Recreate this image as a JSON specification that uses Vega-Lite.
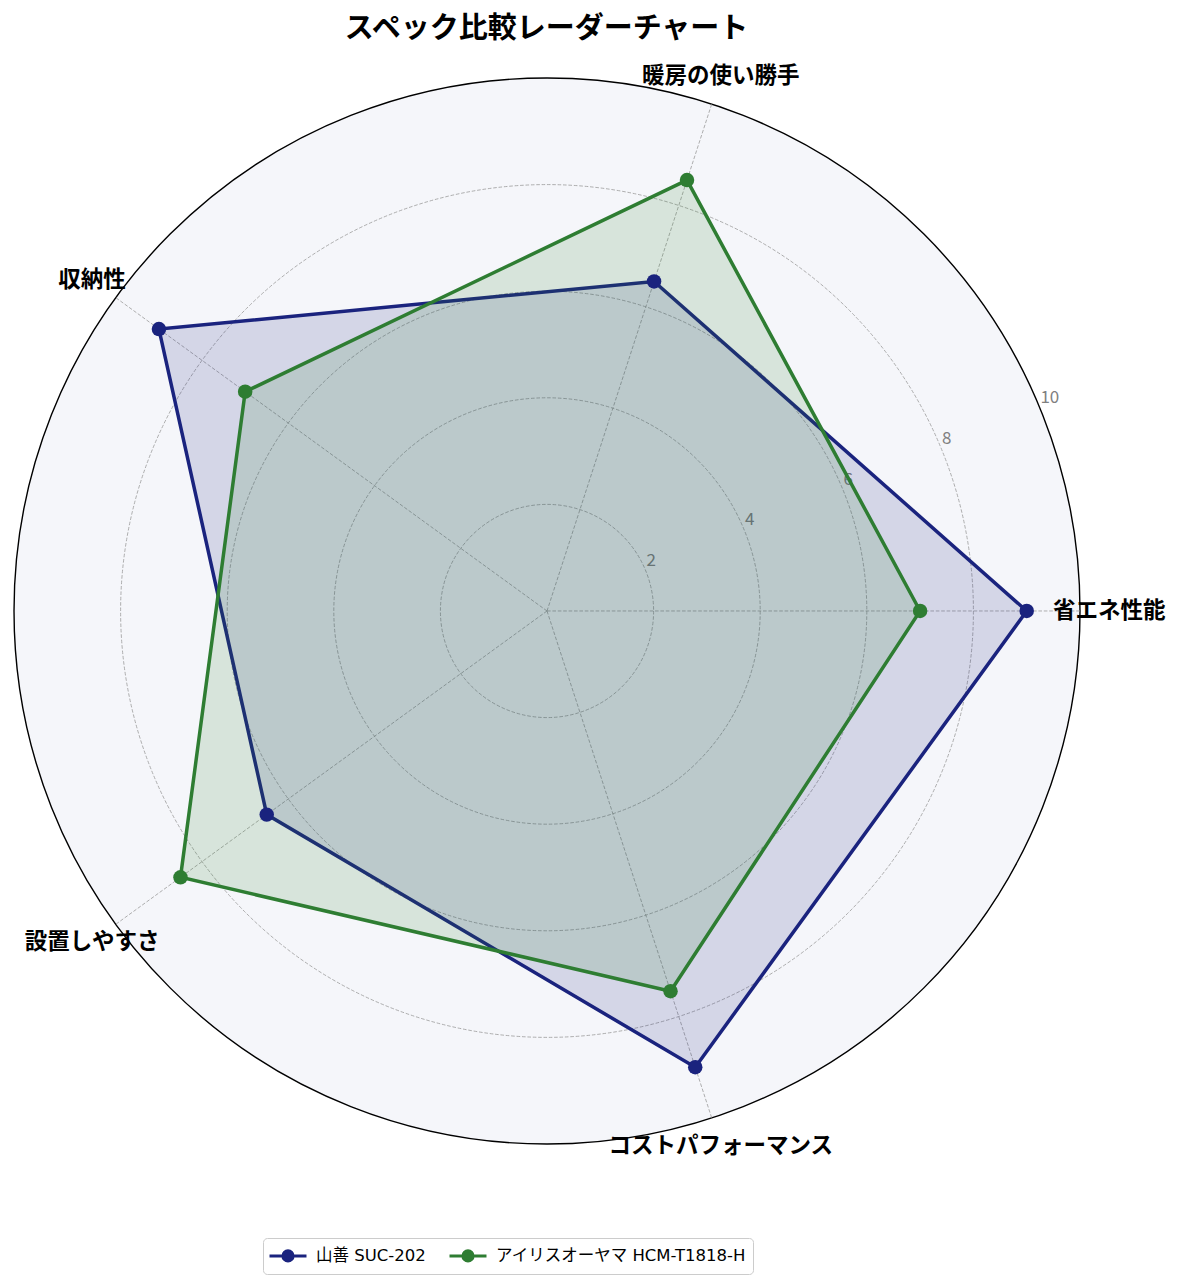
{
  "$schema": "https://vega.github.io/schema/vega-lite/v6.json",
  "width": 1181,
  "height": 1238,
  "autosize": {"type": "none"},
  "padding": {"top": 50, "left": 0, "right": 0, "bottom": 0},
  "background": "white",
  "title": {
    "text": "スペック比較レーダーチャート",
    "font": "Noto Sans CJK JP",
    "fontSize": 29,
    "fontWeight": "bold",
    "color": "#000000",
    "anchor": "middle",
    "dx": -44,
    "offset": 6
  },
  "config": {"view": {"stroke": null}, "font": "Noto Sans CJK JP"},
  "datasets": {
    "scores": [
      {"product": "山善 SUC-202", "metric": "省エネ性能", "order": 0, "score": 9},
      {"product": "山善 SUC-202", "metric": "暖房の使い勝手", "order": 1, "score": 6.5},
      {"product": "山善 SUC-202", "metric": "収納性", "order": 2, "score": 9},
      {"product": "山善 SUC-202", "metric": "設置しやすさ", "order": 3, "score": 6.5},
      {"product": "山善 SUC-202", "metric": "コストパフォーマンス", "order": 4, "score": 9},
      {"product": "アイリスオーヤマ HCM-T1818-H", "metric": "省エネ性能", "order": 0, "score": 7},
      {"product": "アイリスオーヤマ HCM-T1818-H", "metric": "暖房の使い勝手", "order": 1, "score": 8.5},
      {"product": "アイリスオーヤマ HCM-T1818-H", "metric": "収納性", "order": 2, "score": 7},
      {"product": "アイリスオーヤマ HCM-T1818-H", "metric": "設置しやすさ", "order": 3, "score": 8.5},
      {"product": "アイリスオーヤマ HCM-T1818-H", "metric": "コストパフォーマンス", "order": 4, "score": 7.5}
    ],
    "metrics": [
      {"metric": "省エネ性能", "order": 0},
      {"metric": "暖房の使い勝手", "order": 1},
      {"metric": "収納性", "order": 2},
      {"metric": "設置しやすさ", "order": 3},
      {"metric": "コストパフォーマンス", "order": 4}
    ],
    "rings": [{"r": 2}, {"r": 4}, {"r": 6}, {"r": 8}, {"r": 10}]
  },
  "layer": [
    {
      "data": {"name": "rings"},
      "transform": [{"filter": "datum.r == 10"}, {"calculate": "0", "as": "cx"}],
      "mark": {"type": "point", "shape": "circle", "filled": true, "color": "#f5f6fa", "stroke": "#000000", "strokeWidth": 1.4, "opacity": 1},
      "encoding": {
        "x": {"field": "cx", "type": "quantitative", "scale": {"domain": [-10.263, 11.895], "nice": false, "zero": false}, "axis": null},
        "y": {"field": "cx", "type": "quantitative", "scale": {"domain": [-12.702, 10.525], "nice": false, "zero": false}, "axis": null},
        "size": {"field": "r", "type": "quantitative", "scale": {"type": "pow", "exponent": 2, "domain": [0, 10], "range": [0, 1136356]}, "legend": null}
      }
    },
    {
      "data": {"name": "rings"},
      "transform": [{"filter": "datum.r < 10"}, {"calculate": "0", "as": "cx"}],
      "mark": {"type": "point", "shape": "circle", "filled": false, "stroke": "#9a9a9a", "strokeWidth": 0.8, "strokeDash": [3.6, 1.8], "opacity": 1},
      "encoding": {
        "x": {"field": "cx", "type": "quantitative", "scale": {"domain": [-10.263, 11.895], "nice": false, "zero": false}, "axis": null},
        "y": {"field": "cx", "type": "quantitative", "scale": {"domain": [-12.702, 10.525], "nice": false, "zero": false}, "axis": null},
        "size": {"field": "r", "type": "quantitative", "scale": {"type": "pow", "exponent": 2, "domain": [0, 10], "range": [0, 1136356]}, "legend": null}
      }
    },
    {
      "data": {"name": "metrics"},
      "transform": [
        {"calculate": "datum.order * 2 * PI / 5", "as": "angle"},
        {"calculate": "0", "as": "cx"},
        {"calculate": "10 * cos(datum.angle)", "as": "ex"},
        {"calculate": "10 * sin(datum.angle)", "as": "ey"}
      ],
      "mark": {"type": "rule", "stroke": "#9a9a9a", "strokeWidth": 0.8, "strokeDash": [3.6, 1.8]},
      "encoding": {
        "x": {"field": "cx", "type": "quantitative", "scale": {"domain": [-10.263, 11.895], "nice": false, "zero": false}, "axis": null},
        "y": {"field": "cx", "type": "quantitative", "scale": {"domain": [-12.702, 10.525], "nice": false, "zero": false}, "axis": null},
        "x2": {"field": "ex"},
        "y2": {"field": "ey"}
      }
    },
    {
      "data": {"name": "rings"},
      "transform": [
        {"calculate": "datum.r * cos(PI / 8)", "as": "x"},
        {"calculate": "datum.r * sin(PI / 8)", "as": "y"}
      ],
      "mark": {"type": "text", "align": "left", "baseline": "bottom", "fontSize": 17, "color": "#808080", "font": "Noto Sans CJK JP", "dx": 1},
      "encoding": {
        "x": {"field": "x", "type": "quantitative", "scale": {"domain": [-10.263, 11.895], "nice": false, "zero": false}, "axis": null},
        "y": {"field": "y", "type": "quantitative", "scale": {"domain": [-12.702, 10.525], "nice": false, "zero": false}, "axis": null},
        "text": {"field": "r", "type": "quantitative"}
      }
    },
    {
      "data": {"name": "metrics"},
      "transform": [
        {"calculate": "datum.order * 2 * PI / 5", "as": "angle"},
        {"calculate": "10.55 * cos(datum.angle)", "as": "x"},
        {"calculate": "10.55 * sin(datum.angle)", "as": "y"}
      ],
      "mark": {"type": "text", "align": "center", "baseline": "middle", "fontSize": 22.5, "fontWeight": "bold", "color": "#000000", "font": "Noto Sans CJK JP"},
      "encoding": {
        "x": {"field": "x", "type": "quantitative", "scale": {"domain": [-10.263, 11.895], "nice": false, "zero": false}, "axis": null},
        "y": {"field": "y", "type": "quantitative", "scale": {"domain": [-12.702, 10.525], "nice": false, "zero": false}, "axis": null},
        "text": {"field": "metric", "type": "nominal"}
      }
    },
    {
      "data": {"name": "scores"},
      "transform": [
        {"calculate": "datum.order * 2 * PI / 5", "as": "angle"},
        {"calculate": "datum.score * cos(datum.angle)", "as": "x"},
        {"calculate": "datum.score * sin(datum.angle)", "as": "y"}
      ],
      "mark": {"type": "line", "interpolate": "linear-closed", "strokeWidth": 3.5, "fillOpacity": 0.15, "strokeOpacity": 1, "opacity": 1},
      "encoding": {
        "x": {"field": "x", "type": "quantitative", "scale": {"domain": [-10.263, 11.895], "nice": false, "zero": false}, "axis": null},
        "y": {"field": "y", "type": "quantitative", "scale": {"domain": [-12.702, 10.525], "nice": false, "zero": false}, "axis": null},
        "order": {"field": "order", "type": "quantitative"},
        "color": {
          "field": "product", "type": "nominal",
          "scale": {"domain": ["山善 SUC-202", "アイリスオーヤマ HCM-T1818-H"], "range": ["#1a237e", "#2e7d32"]},
          "legend": {
            "orient": "none", "legendX": 263, "legendY": 1188, "direction": "horizontal", "title": null,
            "strokeColor": "#cccccc", "fillColor": "#ffffff", "padding": 6.5, "cornerRadius": 4,
            "labelFont": "DejaVu Sans, Noto Sans CJK JP", "labelFontSize": 16.5, "labelColor": "#000000", "labelLimit": 0,
            "symbolType": "M-2,0L2,0M0.55,0A0.55,0.55,0,1,1,-0.55,0A0.55,0.55,0,1,1,0.55,0Z",
            "symbolSize": 342, "symbolStrokeWidth": 3, "symbolOffset": 7.5, "labelOffset": 17, "columnPadding": 17,
            "symbolOpacity": 1
          }
        },
        "fill": {
          "field": "product", "type": "nominal",
          "scale": {"domain": ["山善 SUC-202", "アイリスオーヤマ HCM-T1818-H"], "range": ["#1a237e", "#2e7d32"]},
          "legend": null
        }
      }
    },
    {
      "data": {"name": "scores"},
      "transform": [
        {"calculate": "datum.order * 2 * PI / 5", "as": "angle"},
        {"calculate": "datum.score * cos(datum.angle)", "as": "x"},
        {"calculate": "datum.score * sin(datum.angle)", "as": "y"}
      ],
      "mark": {"type": "point", "shape": "circle", "filled": true, "size": 210, "opacity": 1},
      "encoding": {
        "x": {"field": "x", "type": "quantitative", "scale": {"domain": [-10.263, 11.895], "nice": false, "zero": false}, "axis": null},
        "y": {"field": "y", "type": "quantitative", "scale": {"domain": [-12.702, 10.525], "nice": false, "zero": false}, "axis": null},
        "color": {"field": "product", "type": "nominal", "scale": {"domain": ["山善 SUC-202", "アイリスオーヤマ HCM-T1818-H"], "range": ["#1a237e", "#2e7d32"]}}
      }
    }
  ]
}
